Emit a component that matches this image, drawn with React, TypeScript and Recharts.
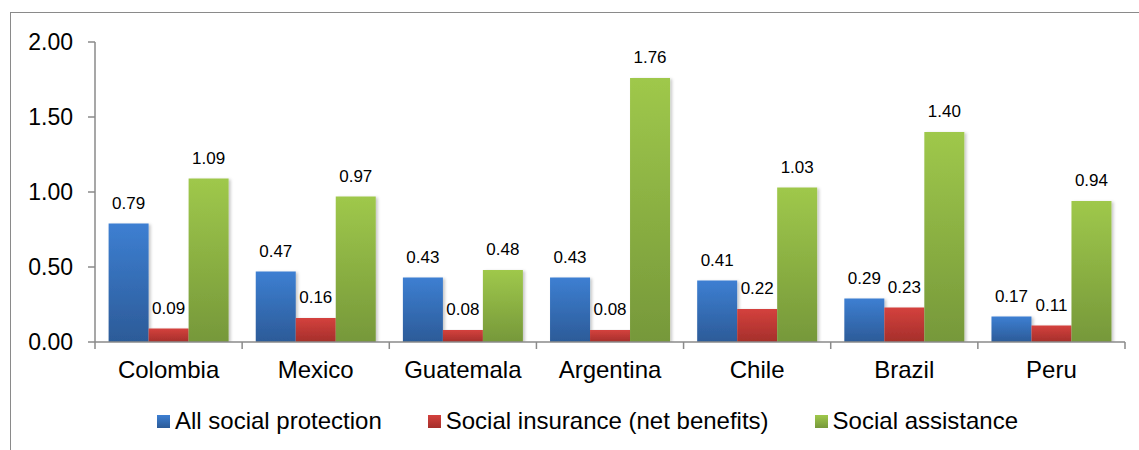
import React from "react";
import { BarChart, Bar, XAxis, YAxis, Legend, LabelList } from "recharts";

// Social protection spending by country (three instruments)
const countries = ["Colombia", "Mexico", "Guatemala", "Argentina", "Chile", "Brazil", "Peru"];
const allSocialProtection = [0.79, 0.47, 0.43, 0.43, 0.41, 0.29, 0.17];
const socialInsurance = [0.09, 0.16, 0.08, 0.08, 0.22, 0.23, 0.11];
const socialAssistance = [1.09, 0.97, 0.48, 1.76, 1.03, 1.4, 0.94];
const yTicks = [0, 0.5, 1, 1.5, 2];

const seriesKeys = ["all", "insurance", "assistance"] as const;
const seriesNames = {
  all: "All social protection",
  insurance: "Social insurance (net benefits)",
  assistance: "Social assistance",
};

const data = countries.map((country, i) => ({
  country,
  all: allSocialProtection[i],
  insurance: socialInsurance[i],
  assistance: socialAssistance[i],
}));

const FONT = "'Liberation Sans', Arial, sans-serif";
const AXIS_GRAY = "#8a8a8a";

const gradients: Record<string, [string, string]> = {
  all: ["#3d7fd2", "#2c5b98"],
  insurance: ["#d4413d", "#a52f2b"],
  assistance: ["#9fc84b", "#76983a"],
};

const TICK_SIZE = 7;
const TICK_MARGIN = 12;

// Category label plus boundary tick marks between categories
const CategoryTick = (props: any) => {
  const { x, y, payload, index, visibleTicksCount } = props;
  const half = payload && typeof payload.offset === "number" ? payload.offset : 0;
  const axisY = y - TICK_SIZE - TICK_MARGIN;
  const count = visibleTicksCount ?? countries.length;
  return (
    <g>
      <line x1={x - half} x2={x - half} y1={axisY} y2={axisY + TICK_SIZE} stroke={AXIS_GRAY} strokeWidth={1.5} />
      {index === count - 1 && (
        <line x1={x + half} x2={x + half} y1={axisY} y2={axisY + TICK_SIZE} stroke={AXIS_GRAY} strokeWidth={1.5} />
      )}
      <text x={x} y={y} dy="0.71em" textAnchor="middle" fontSize={24} fontFamily={FONT} fill="#000">
        {payload.value}
      </text>
    </g>
  );
};

const LegendContent = (props: any) => {
  const payload = [...(props.payload || [])].sort(
    (a: any, b: any) => seriesKeys.indexOf(a.dataKey) - seriesKeys.indexOf(b.dataKey)
  );
  return (
    <div style={{ display: "flex", paddingLeft: 157, paddingTop: 28, fontFamily: FONT, fontSize: 24, lineHeight: "22px", color: "#000" }}>
      {payload.map((entry: any) => {
        const key = entry.dataKey as string;
        const [top, bottom] = gradients[key];
        return (
          <div key={key} style={{ display: "flex", alignItems: "center", marginRight: 46, whiteSpace: "nowrap" }}>
            <span
              style={{
                display: "inline-block",
                width: 13,
                height: 13,
                marginRight: 5,
                background: `linear-gradient(${top}, ${bottom})`,
              }}
            />
            <span>{entry.value}</span>
          </div>
        );
      })}
    </div>
  );
};

const fmt = (v: any) => Number(v).toFixed(2);

export default function App() {
  return (
    <div style={{ position: "absolute", left: 0, top: 0, width: 1139, height: 450, overflow: "hidden", background: "#fff" }}>
      <div
        style={{
          position: "absolute",
          left: 10,
          top: 12,
          width: 1300,
          height: 600,
          borderTop: `1.5px solid ${AXIS_GRAY}`,
          borderLeft: `1.5px solid ${AXIS_GRAY}`,
        }}
      />
      <div style={{ position: "absolute", left: 0, top: 0 }}>
        <BarChart
          width={1139}
          height={450}
          data={data}
          margin={{ top: 42, right: 14, bottom: 8, left: 0 }}
          barCategoryGap="9.25%"
          barGap={0}
        >
          <defs>
            {Object.entries(gradients).map(([key, [top, bottom]]) => (
              <linearGradient key={key} id={`grad-${key}`} x1="0" y1="0" x2="0" y2="1">
                <stop offset="0%" stopColor={top} />
                <stop offset="100%" stopColor={bottom} />
              </linearGradient>
            ))}
            <filter id="barShadow" x="-20%" y="-5%" width="150%" height="115%">
              <feDropShadow dx="2" dy="1" stdDeviation="1.5" floodColor="#000" floodOpacity="0.22" />
            </filter>
          </defs>
          <XAxis
            dataKey="country"
            height={40}
            tickLine={false}
            tickSize={TICK_SIZE}
            tickMargin={TICK_MARGIN}
            axisLine={{ stroke: AXIS_GRAY, strokeWidth: 1.5 }}
            tick={<CategoryTick />}
            interval={0}
          />
          <YAxis
            width={95}
            domain={[0, 2]}
            ticks={yTicks}
            tickFormatter={fmt}
            tickSize={TICK_SIZE}
            tickMargin={15}
            axisLine={{ stroke: AXIS_GRAY, strokeWidth: 1.5 }}
            tickLine={{ stroke: AXIS_GRAY, strokeWidth: 1.5 }}
            tick={{ fontSize: 23, fontFamily: FONT, fill: "#000" }}
            allowDataOverflow
          />
          <Legend
            verticalAlign="bottom"
            height={60}
            wrapperStyle={{ left: 0, width: 1139 }}
            content={<LegendContent />}
          />
          {seriesKeys.map((key) => (
            <Bar
              key={key}
              dataKey={key}
              name={seriesNames[key]}
              fill={`url(#grad-${key})`}
              filter="url(#barShadow)"
              isAnimationActive={false}
            >
              <LabelList
                dataKey={key}
                position="top"
                offset={15}
                formatter={fmt}
                fontSize={17}
                fontFamily={FONT}
                fill="#000"
              />
            </Bar>
          ))}
        </BarChart>
      </div>
    </div>
  );
}
